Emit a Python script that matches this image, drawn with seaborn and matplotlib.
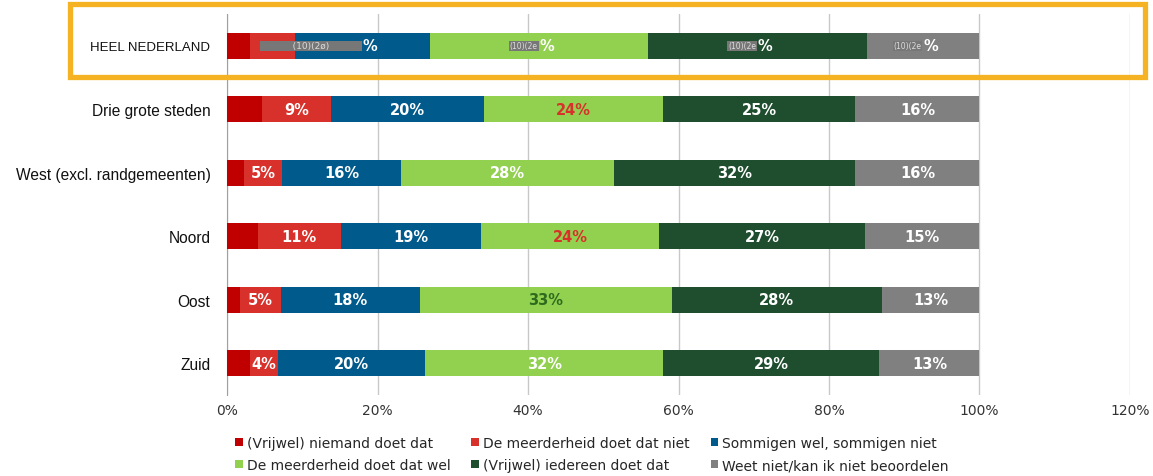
import numpy as np
import pandas as pd
import seaborn as sns
import matplotlib.pyplot as plt
from matplotlib.patches import Rectangle
from matplotlib.ticker import FixedLocator, PercentFormatter

# Regions (rows) and answer categories (stacked segments)
regions = ["HEEL NEDERLAND", "Drie grote steden", "West (excl. randgemeenten)",
           "Noord", "Oost", "Zuid"]
categories = ["(Vrijwel) niemand doet dat", "De meerderheid doet dat niet",
              "Sommigen wel, sommigen niet", "De meerderheid doet dat wel",
              "(Vrijwel) iedereen doet dat", "Weet niet/kan ik niet beoordelen"]
colors = ["#C00000", "#D8302A", "#005A8C", "#92D050", "#1F4E2F", "#808080"]

# percentages per category, one list per segment (rows in region order)
niemand = [3.0, 4.6, 2.3, 4.1, 1.7, 3.0]
meerderheid_niet = [6.0, 9.2, 5.0, 11.0, 5.4, 3.8]
sommigen = [18.0, 20.3, 15.8, 18.7, 18.5, 19.5]
meerderheid_wel = [29.0, 23.9, 28.3, 23.6, 33.5, 31.7]
iedereen = [29.0, 25.5, 32.1, 27.4, 27.9, 28.7]
weet_niet = [15.0, 16.5, 16.5, 15.2, 13.0, 13.3]

# labels shown on the bars (None = no label)
labels = [
    [None, None, None, None, None, None],
    [None, "9%", "20%", "24%", "25%", "16%"],
    [None, "5%", "16%", "28%", "32%", "16%"],
    [None, "11%", "19%", "24%", "27%", "15%"],
    [None, "5%", "18%", "33%", "28%", "13%"],
    [None, "4%", "20%", "32%", "29%", "13%"],
]
label_colors = [
    [None] * 6,
    [None, "white", "white", "#D8302A", "white", "white"],
    [None, "white", "white", "white", "white", "white"],
    [None, "white", "white", "#D8302A", "white", "white"],
    [None, "white", "white", "#2E6B1E", "white", "white"],
    [None, "white", "white", "white", "white", "white"],
]

series = [niemand, meerderheid_niet, sommigen, meerderheid_wel, iedereen, weet_niet]
vals = np.array(series).T            # rows = regions
cum = np.cumsum(vals, axis=1)

sns.set_style("white")
fig = plt.figure(figsize=(11.53, 4.77), dpi=100)
ax = fig.add_axes([0.197, 0.170, 0.783, 0.798])

# stacked bars: draw cumulative totals from the largest down
for i in range(len(categories) - 1, -1, -1):
    df = pd.DataFrame({"region": regions, "value": cum[:, i]})
    sns.barplot(data=df, x="value", y="region", orient="h", color=colors[i],
                saturation=1, width=0.41, ax=ax, label=categories[i],
                linewidth=0, zorder=3)
if ax.get_legend() is not None:
    ax.get_legend().remove()

# segment labels
for r in range(len(regions)):
    for c in range(len(categories)):
        txt = labels[r][c]
        if txt is None:
            continue
        xc = cum[r, c] - vals[r, c] / 2
        ax.text(xc, r, txt, ha="center", va="center", fontsize=10.5,
                fontweight="bold", color=label_colors[r][c], zorder=5,
                family="DejaVu Sans")

# garbled labels of the top row
for c, (gtxt, fs) in zip([2, 3, 4, 5], [("           (10)(2ø)           ", 6.5),
                                        ("(10)(2e", 5.5), ("(10)(2e", 5.5), ("(10)(2e", 5.5)]):
    xc = cum[0, c] - vals[0, c] / 2
    ax.text(xc - 0.2, 0, gtxt, ha="right", va="center", fontsize=fs, color="#DDDDDD",
            zorder=5, bbox=dict(boxstyle="square,pad=0.1", fc="#777777", ec="none"))
    ax.text(xc, 0, "%", ha="left", va="center", fontsize=10.5, fontweight="bold",
            color="white", zorder=5)

ax.set_xlim(0, 120)
ax.set_ylim(5.5, -0.5)
ax.xaxis.set_major_locator(FixedLocator([0, 20, 40, 60, 80, 100, 120]))
ax.xaxis.set_major_formatter(PercentFormatter(decimals=0))
ax.grid(axis="x", color="#C8C8C8", linewidth=1, zorder=0)
ax.set_axisbelow(True)
ax.set_xlabel("")
ax.set_ylabel("")
for s in ["top", "right", "bottom"]:
    ax.spines[s].set_visible(False)
ax.spines["left"].set_color("#A0A0A0")
ax.tick_params(axis="x", length=0, labelsize=10, labelcolor="#333333", pad=6)
ax.tick_params(axis="y", which="major", length=0, pad=12)
ax.yaxis.set_minor_locator(FixedLocator([0.5, 1.5, 2.5, 3.5, 4.5]))
ax.tick_params(axis="y", which="minor", length=5, color="#A0A0A0")
for k, t in enumerate(ax.get_yticklabels()):
    t.set_fontfamily("Liberation Sans")
    t.set_fontsize(9.5 if k == 0 else 11.2)
    t.set_color("#111111")
for t in ax.get_xticklabels():
    t.set_fontfamily("DejaVu Sans")

# legend in original category order, filled row by row
handles, lbls = ax.get_legend_handles_labels()
order = [lbls.index(categories[k]) for k in [0, 3, 1, 4, 2, 5]]
fig.legend([handles[k] for k in order], [lbls[k] for k in order], ncol=3,
           loc="lower left", bbox_to_anchor=(0.193, -0.018), frameon=False,
           handlelength=0.55, handleheight=0.55, handletextpad=0.3,
           columnspacing=1.5, labelspacing=0.6, prop={"family": "DejaVu Sans", "size": 10})

# orange highlight frame around the top row
fig.patches.append(Rectangle((0.0607, 0.8365), 0.932, 0.153, transform=fig.transFigure,
                             fill=False, ec="#F5B324", lw=3.8))

fig.savefig("out.png", dpi=100)
